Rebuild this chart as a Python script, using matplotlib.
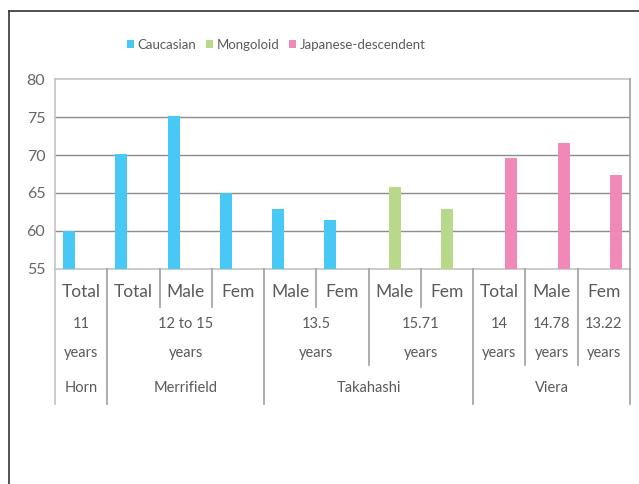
import numpy as np
import matplotlib
matplotlib.use("Agg")
import matplotlib.pyplot as plt
from matplotlib.transforms import blended_transform_factory
from matplotlib.lines import Line2D

nan = np.nan
level1 = ["Total", "Total", "Male", "Fem", "Male", "Fem", "Male", "Fem", "Total", "Male", "Fem"]
# level 2 groups: (label, first index, last index)
level2 = [("11\nyears", 0, 0), ("12 to 15\nyears", 1, 3), ("13.5\nyears", 4, 5),
          ("15.71\nyears", 6, 7), ("14\nyears", 8, 8), ("14.78\nyears", 9, 9),
          ("13.22\nyears", 10, 10)]
level3 = [("Horn", 0, 0), ("Merrifield", 1, 3), ("Takahashi", 4, 7), ("Viera", 8, 10)]

series_names = ["Caucasian", "Mongoloid", "Japanese-descendent"]
caucasian = [60.0, 70.1, 75.1, 65.0, 62.9, 61.4, nan, nan, nan, nan, nan]
mongoloid = [nan, nan, nan, nan, nan, nan, 65.8, 62.9, nan, nan, nan]
japanese = [nan, nan, nan, nan, nan, nan, nan, nan, 69.6, 71.6, 67.4]
colors = ["#48C8F4", "#B8D98A", "#F088B8"]

W, H = 639, 484
fig = plt.figure(figsize=(W / 100, H / 100), dpi=100)
plt.rcParams['font.family'] = ['Lato', 'DejaVu Sans']
txtc = "#5a5a5a"
fw = "normal"

L, R, T, B = 55, 630, 79, 269
ax = fig.add_axes([L / W, 1 - B / H, (R - L) / W, (B - T) / H])
n = len(level1)
x = np.arange(n)
bw = 0.23
handles = []
for i, (vals, c, name) in enumerate(zip([caucasian, mongoloid, japanese], colors, series_names)):
    h = ax.bar(x + (i - 1) * bw, vals, width=bw, color=c, label=name, zorder=3)
    handles.append(h)
ax.set_xlim(-0.5, n - 0.5)
ax.set_ylim(55, 80)
ax.set_yticks([55, 60, 65, 70, 75, 80])
ax.tick_params(axis='y', length=0, labelsize=11.5, labelcolor="#666666", pad=7)
ax.tick_params(axis='x', length=0, labelbottom=False)
for yv in [60, 65, 70, 75]:
    ax.axhline(yv, color="#8c8c8c", lw=1, zorder=1)
for s in ["top", "bottom", "left"]:
    ax.spines[s].set_color("#c4c4c4")
    ax.spines[s].set_linewidth(1.2)
ax.spines["right"].set_visible(False)
for lab in ax.get_yticklabels():
    lab.set_fontweight(fw)

tr = blended_transform_factory(ax.transData, fig.transFigure)
def fy(py):
    return 1 - py / H

# Level 1 labels
for i, lab in enumerate(level1):
    fig.text(i, fy(292), lab, transform=tr, ha="center", va="center",
             fontsize=12.5, color=txtc, fontweight=fw)
for lab, a, b in level2:
    l1, l2 = lab.split("\n")
    xc = (a + b) / 2
    fig.text(xc, fy(324), l1, transform=tr, ha="center", va="center",
             fontsize=10.5, color=txtc, fontweight=fw)
    fig.text(xc, fy(353), l2, transform=tr, ha="center", va="center",
             fontsize=10.5, color=txtc, fontweight=fw)
for lab, a, b in level3:
    xc = (a + b) / 2
    fig.text(xc, fy(388), lab, transform=tr, ha="center", va="center",
             fontsize=10.5, color=txtc, fontweight=fw)

# separators
l3_bounds = set([a - 0.5 for _, a, _ in level3] + [n - 0.5])
l2_bounds = set([a - 0.5 for _, a, _ in level2])
for k in range(n + 1):
    xb = k - 0.5
    if xb in l3_bounds:
        yb = 404
    elif xb in l2_bounds:
        yb = 365
    else:
        yb = 307
    col = "#c4c4c4" if k == 0 else "#a0a0a0"
    fig.add_artist(Line2D([xb, xb], [fy(B), fy(yb)], transform=tr, color=col, lw=1.2))
# right vertical line up to top
fig.add_artist(Line2D([n - 0.5, n - 0.5], [fy(T), fy(B)], transform=tr, color="#a0a0a0", lw=1.2))

# outer frame
fig.add_artist(Line2D([9 / W, 1.0], [fy(11), fy(11)], transform=fig.transFigure, color="#333333", lw=1.2))
fig.add_artist(Line2D([9 / W, 9 / W], [fy(11), 0], transform=fig.transFigure, color="#333333", lw=1.2))

leg = fig.legend(handles=handles, loc="center", bbox_to_anchor=(276 / W, fy(45)), ncol=3,
                 frameon=False, handlelength=0.55, handleheight=0.55, handletextpad=0.25,
                 columnspacing=0.75, fontsize=9.5)
for t in leg.get_texts():
    t.set_color(txtc)
    t.set_fontweight(fw)

fig.savefig("out.png", dpi=100)
